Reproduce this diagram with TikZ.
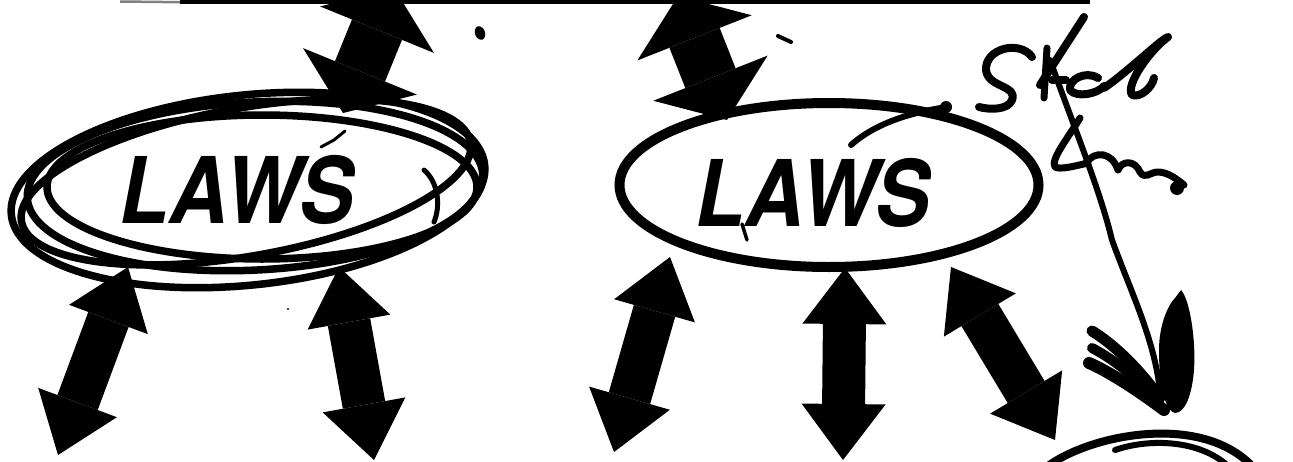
\documentclass[tikz,border=0pt]{standalone}
\usepackage{fontspec}
\usepackage{graphicx}
\setmainfont{TeX Gyre Heros}
\usetikzlibrary{arrows.meta,shapes.geometric}
\begin{document}
\begin{tikzpicture}[x=1pt,y=-1pt,
  ink/.style={line width=#1,line cap=round,line join=round},
  loopline/.style={line width=7.5pt},
  barrow/.style={line width=43pt,arrows={Triangle[length=56pt,width=84pt,line width=0pt]-Triangle[length=56pt,width=84pt,line width=0pt]}},
  tarrow/.style={line width=54pt,arrows={Triangle[length=45pt,width=123pt,line width=0pt]-Triangle[length=45pt,width=123pt,line width=0pt]}},
  laws/.style={inner sep=0pt,font=\fontsize{92}{92}\selectfont\bfseries\itshape}
]
\useasboundingbox (0,0) rectangle (1293,461);
\fill[white] (0,0) rectangle (1293,461);
\clip (0,0) rectangle (1293,461);

% top rule
\coordinate (ruleG) at (120,1.5);
\coordinate (ruleL) at (180,2.2);
\coordinate (ruleR) at (1090,2.2);
\draw[gray,line width=2.5pt] (ruleG) -- (ruleL);
\draw[line width=4.5pt] (ruleL) -- (ruleR);

% left group: scribbled ellipses
\node[draw,ellipse,loopline,minimum width=430pt,minimum height=144pt,inner sep=0pt] (ellL) at (262,187) {};
\draw[loopline,rotate around={6:(248,190)}] (248,190) ellipse [x radius=238pt,y radius=95pt];
\draw[loopline,rotate around={3:(255,186)}] (255,186) ellipse [x radius=228pt,y radius=84pt];
\draw[loopline,rotate around={10:(246,182)}] (246,182) ellipse [x radius=228pt,y radius=74pt];
\node[laws] (lawsL) at (237,190) {\scalebox{0.89}[1]{LAWS}};
\draw[ink=5pt] (424,170) .. controls (438,182) and (441,205) .. (434,222);
\draw[ink=3pt] (321,147) -- (334,140) -- (345,131);

% right group
\node[draw,ellipse,line width=10pt,minimum width=419pt,minimum height=164pt,inner sep=0pt] (ellR) at (829,185) {};
\node[laws] (lawsR) at (813,193) {\scalebox{0.89}[1]{LAWS}};
\draw[ink=6pt] (851,145) .. controls (870,128) and (900,114) .. (947,107);
\fill (946,107) circle [radius=6pt];
\draw[ink=3.5pt] (742,224) -- (747,240);

% specks
\fill[rotate around={20:(480,33)}] (480,33) ellipse [x radius=5pt,y radius=7pt];
\draw[ink=4pt] (778,36) -- (791,42);
\fill (288,309) circle [radius=1.2pt];

% arrow end points
\coordinate (tlA) at (394,-12);  \coordinate (tlB) at (343,113);
\coordinate (trA) at (678,-4);   \coordinate (trB) at (727,120);
\coordinate (blaA) at (128,267); \coordinate (blaB) at (58,455);
\coordinate (blbA) at (339,267); \coordinate (blbB) at (374,460);
\coordinate (braA) at (670,257); \coordinate (braB) at (614,452);
\coordinate (brbA) at (845,268); \coordinate (brbB) at (843,460);
\coordinate (brcA) at (951,267); \coordinate (brcB) at (1055,440);

\draw[tarrow] (tlA) -- (tlB);
\draw[tarrow] (trA) -- (trB);
\draw[barrow] (blaA) -- (blaB);
\draw[barrow] (blbA) -- (blbB);
\draw[barrow] (braA) -- (braB);
\draw[barrow] (brbA) -- (brbB);
\draw[barrow] (brcA) -- (brcB);

% handwriting
\draw[ink=8pt] (1032,57) .. controls (1020,40) and (985,48) .. (986,70)
  .. controls (988,88) and (1018,85) .. (1012,100)
  .. controls (1008,110) and (990,110) .. (979,107);
\draw[ink=8pt] (1084,17) -- (1040,85);
\draw[ink=7pt] (1047,48) -- (1044,98);
\draw[ink=8pt] (1052,80) -- (1066,80);
\draw[ink=8pt] (1098,78) .. controls (1085,70) and (1068,80) .. (1070,90)
  .. controls (1076,98) and (1098,94) .. (1104,86);
\draw[ink=8pt] (1104,88) .. controls (1130,70) and (1160,40) .. (1168,37)
  .. controls (1150,50) and (1125,85) .. (1132,95)
  .. controls (1140,98) and (1152,88) .. (1154,78);
\draw[ink=6pt] (1050,60) .. controls (1075,130) and (1100,190) .. (1112,240)
  .. controls (1130,290) and (1155,340) .. (1160,392);
\draw[ink=7pt] (1080,118) .. controls (1068,138) and (1050,160) .. (1055,167)
  .. controls (1060,170) and (1075,166) .. (1088,163);
\draw[ink=7pt] (1086,163) .. controls (1095,150) and (1112,152) .. (1118,170)
  .. controls (1122,160) and (1135,160) .. (1140,172)
  .. controls (1145,180) and (1150,172) .. (1158,172)
  .. controls (1168,172) and (1178,180) .. (1184,185);
\fill (1177,188) circle [radius=7pt];

% scribbled arrow head
\draw[ink=11pt] (1092,331) .. controls (1115,345) and (1140,370) .. (1160,398);
\draw[ink=10pt] (1092,348) .. controls (1115,360) and (1140,380) .. (1158,403);
\draw[ink=12pt] (1089,363) .. controls (1110,372) and (1140,392) .. (1164,410);
\fill (1181,290) .. controls (1190,300) and (1196,340) .. (1194,370)
  .. controls (1192,395) and (1185,413) .. (1175,413)
  .. controls (1165,411) and (1159,385) .. (1159,350)
  .. controls (1159,325) and (1168,305) .. (1175,298) -- cycle;

% bottom right partial ellipse
\draw[ink=8pt] (1048,466) .. controls (1090,435) and (1200,412) .. (1252,466);
\draw[ink=6pt] (1115,450) .. controls (1150,438) and (1200,440) .. (1228,466);
\end{tikzpicture}
\end{document}
